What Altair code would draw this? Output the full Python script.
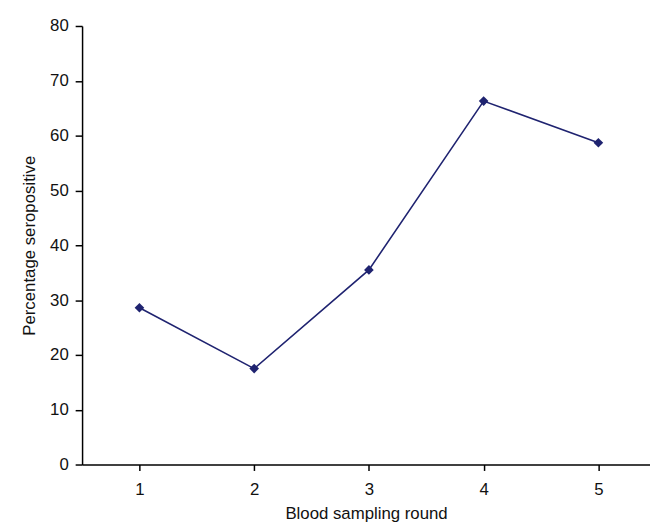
import altair as alt
import pandas as pd

rounds = [1, 2, 3, 4, 5]
seropositive = [28.6, 17.5, 35.5, 66.3, 58.7]

df = pd.DataFrame({"round": rounds, "pct": seropositive})

base = alt.Chart(df).encode(
    x=alt.X("round:Q",
            scale=alt.Scale(domain=[0.5, 5.45], nice=False, zero=False),
            axis=alt.Axis(title="Blood sampling round", values=rounds, format="d",
                          grid=False, tickSize=6, labelPadding=11, titlePadding=9)),
    y=alt.Y("pct:Q",
            scale=alt.Scale(domain=[0, 80], nice=False),
            axis=alt.Axis(title="Percentage seropositive", values=list(range(0, 81, 10)),
                          grid=False, tickSize=7, labelPadding=7, titlePadding=11)),
)

line = base.mark_line(color="#1f2370", strokeWidth=1.6)
pts = base.mark_point(shape="diamond", filled=True, color="#1f2370", size=95, opacity=1)

chart = (line + pts).properties(
    width=575, height=444,
    autosize=alt.AutoSizeParams(type="none"),
    padding={"left": 75, "top": 15, "right": 0, "bottom": 57},
).configure_view(stroke=None).configure_axis(
    domainColor="black", domainWidth=1.5, tickColor="black", tickWidth=1.5,
    labelFont="Liberation Sans", titleFont="Liberation Sans",
    labelFontSize=17, titleFontSize=17, titleFontWeight="normal",
    labelColor="#111", titleColor="#111",
)

chart.save("out.html", embed_options={"renderer": "svg", "actions": False})
